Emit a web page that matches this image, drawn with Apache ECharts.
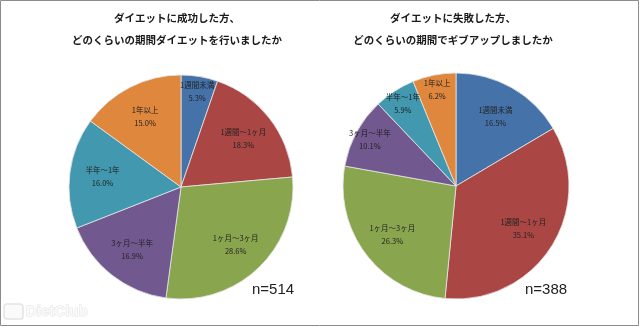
<!DOCTYPE html>
<html>
<head>
<meta charset="utf-8">
<script src="https://cdn.jsdelivr.net/npm/echarts@6/dist/echarts.min.js"></script>
<style>
html,body{margin:0;padding:0;background:#fff;}
#c{width:640px;height:327px;}
</style>
</head>
<body>
<div id="c"></div>
<script>
const categories = ['1週間未満','1週間～1ヶ月','1ヶ月～3ヶ月','3ヶ月～半年','半年～1年','1年以上'];
const successValues = [5.3, 18.3, 28.6, 16.9, 16.0, 15.0];
const failureValues = [16.5, 35.1, 26.3, 10.1, 5.9, 6.2];
const successTitle = ['ダイエットに成功した方、', 'どのくらいの期間ダイエットを行いましたか'];
const failureTitle = ['ダイエットに失敗した方、', 'どのくらいの期間でギブアップしましたか'];
const successN = 'n=514';
const failureN = 'n=388';

const colors = ['#4672AA', '#AA4643', '#89A54E', '#71588F', '#4198AF', '#DE873D'];
const font = '"Noto Sans CJK JP", sans-serif';
const SMALL = 10.5; // slices below this get their label placed further out

function toData(vals, filter) {
  return categories.map((c, i) => ({
    name: c,
    value: vals[i],
    label: { show: filter ? filter(vals[i]) : false }
  }));
}

function labelOverlay(vals, center, r, inner, filter) {
  return {
    type: 'pie',
    center: center,
    radius: [r * inner, r],
    startAngle: 90,
    clockwise: true,
    silent: true,
    z: 3,
    itemStyle: { color: 'rgba(0,0,0,0)', borderWidth: 0 },
    emphasis: { disabled: true },
    labelLine: { show: false },
    labelLayout: { hideOverlap: false },
    avoidLabelOverlap: false,
    label: {
      position: 'inside',
      fontFamily: font,
      fontSize: 7.5,
      lineHeight: 13,
      color: '#222',
      formatter: p => p.name + '\n' + p.value.toFixed(1) + '%'
    },
    data: toData(vals, filter)
  };
}

function pieSeries(vals, center, r) {
  return [
    {
      type: 'pie',
      center: center,
      radius: [0, r],
      startAngle: 90,
      clockwise: true,
      silent: true,
      label: { show: false },
      labelLine: { show: false },
      itemStyle: { borderColor: '#e6e6e6', borderWidth: 0.8 },
      emphasis: { disabled: true },
      data: toData(vals)
    },
    labelOverlay(vals, center, r, 0.36, v => v >= SMALL),
    labelOverlay(vals, center, r, 0.68, v => v < SMALL)
  ];
}

const chart = echarts.init(document.getElementById('c'), null, { renderer: 'canvas' });

function titleText(lines, cx) {
  return lines.map((t, i) => ({
    type: 'text',
    x: cx,
    y: 18 + i * 22,
    style: {
      text: t,
      fill: '#1a1a1a',
      font: 'bold 10.5px ' + font,
      textAlign: 'center',
      textVerticalAlign: 'middle'
    }
  }));
}

chart.setOption({
  animation: false,
  color: colors,
  series: [
    ...pieSeries(successValues, [181, 187], 112),
    ...pieSeries(failureValues, [456, 186], 113)
  ],
  graphic: [
    {
      type: 'rect',
      shape: { x: 0.5, y: 0.5, width: 638, height: 325 },
      style: { fill: 'none', stroke: '#8c8c8c', lineWidth: 1 },
      z: 100
    },
    ...titleText(successTitle, 177),
    ...titleText(failureTitle, 453),
    {
      type: 'text', x: 252, y: 290,
      style: { text: successN, fill: '#222', font: '15px "Liberation Sans", sans-serif', textVerticalAlign: 'middle' }
    },
    {
      type: 'text', x: 525, y: 290,
      style: { text: failureN, fill: '#222', font: '15px "Liberation Sans", sans-serif', textVerticalAlign: 'middle' }
    },
    {
      type: 'rect',
      shape: { x: 4, y: 304, width: 19, height: 15, r: 3 },
      style: { fill: '#fafafa', stroke: '#e4e4e4', lineWidth: 1.5 }
    },
    {
      type: 'text', x: 26, y: 312,
      style: { text: 'DietClub', fill: '#fafafa', stroke: '#e2e2e2', lineWidth: 1, font: 'bold 15px "Liberation Sans", sans-serif', textVerticalAlign: 'middle' }
    }
  ]
});
</script>
</body>
</html>
